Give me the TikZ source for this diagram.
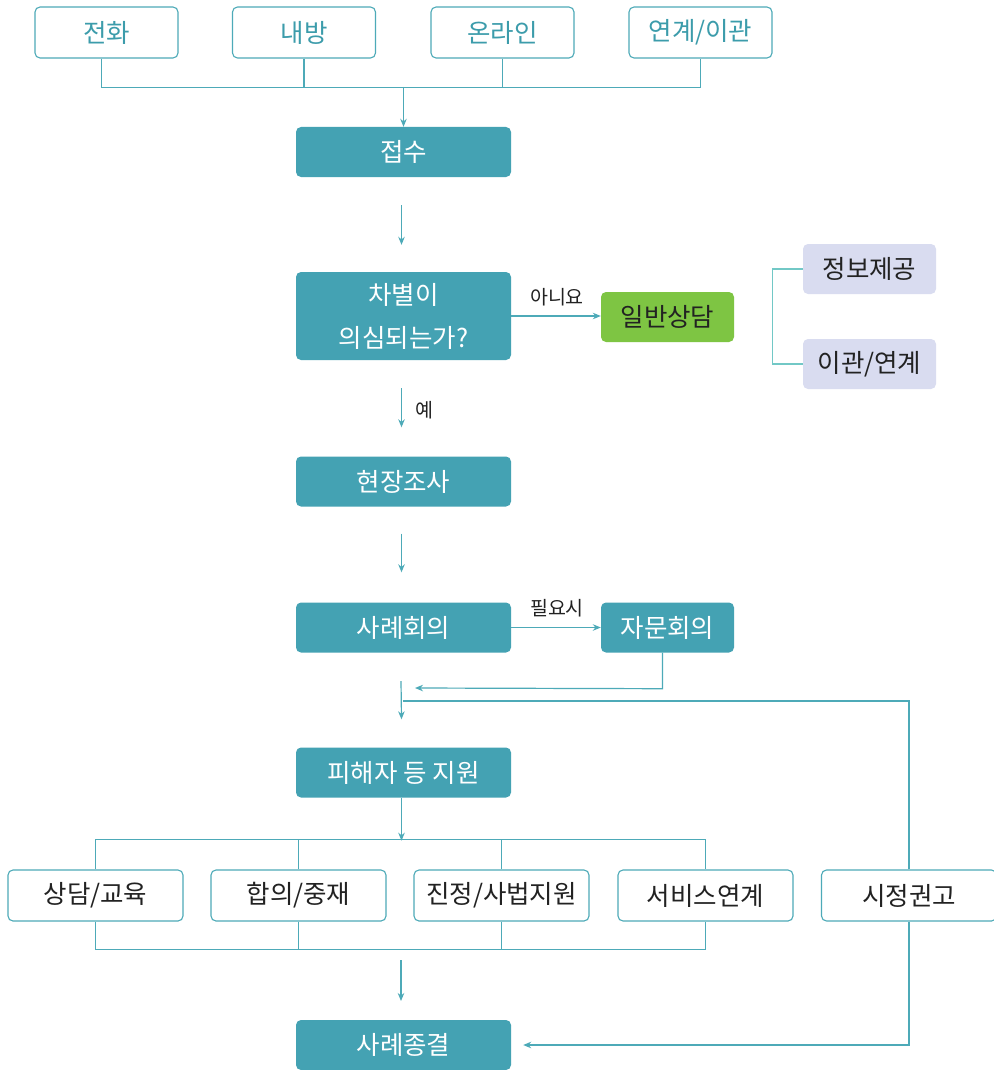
\documentclass[tikz,border=0pt]{standalone}
\usepackage{fontspec}
\setmainfont{Noto Sans CJK KR}
\usetikzlibrary{arrows.meta,calc}
\definecolor{tealf}{HTML}{44A2B3}
\definecolor{tealt}{HTML}{3C9CAB}
\definecolor{linec}{HTML}{4DAAB8}
\definecolor{greenf}{HTML}{7EC543}
\definecolor{lavf}{HTML}{D9DCF0}
\definecolor{bracketc}{HTML}{72C8C6}
\definecolor{txt}{HTML}{222222}
\begin{document}
\begin{tikzpicture}[x=1pt,y=-1pt,
  base/.style={inner sep=0pt, font=\fontsize{25.5}{30}\selectfont, rounded corners=5pt},
  outbox/.style={base, draw=linec, line width=1.1pt, fill=white, minimum width=143pt, minimum height=51pt},
  mainbox/.style={base, fill=tealf, text=white, minimum width=215pt, minimum height=50pt},
  greenbox/.style={base, fill=greenf, text=txt, minimum width=133pt, minimum height=50pt},
  lavbox/.style={base, fill=lavf, text=txt, minimum width=133pt, minimum height=50pt},
  conn/.style={draw=linec, line width=1.2pt},
  arr/.style={conn, -{Stealth[length=8pt,width=6.5pt]}},
  lab/.style={font=\fontsize{19.5}{22}\selectfont, inner sep=1pt, text=txt}]
\useasboundingbox (0,0) rectangle (993,1070);
\fill[white] (0,0) rectangle (993,1070);

% top sources
\node[outbox,text=tealt] (phone) at (106.5,32.5) {전화};
\node[outbox,text=tealt] (visit) at (304,32.5) {내방};
\node[outbox,text=tealt] (online) at (502.5,32.5) {온라인};
\node[outbox,text=tealt] (link) at (700.5,32.5) {연계/이관};

% main column
\node[mainbox] (recv) at (403.5,152) {접수};
\node[mainbox, minimum height=88pt, align=center, font=\fontsize{25.5}{43}\selectfont] (q) at (403.5,316) {차별이\\의심되는가?};
\node[greenbox] (gen) at (667.5,317) {일반상담};
\node[lavbox] (info) at (869.5,269) {정보제공};
\node[lavbox] (trans) at (869.5,364) {이관/연계};
\node[mainbox] (site) at (403.5,481.5) {현장조사};
\node[mainbox] (case) at (403.5,627.5) {사례회의};
\node[mainbox, minimum width=133pt] (adv) at (667.5,627.5) {자문회의};
\node[mainbox] (sup) at (403.5,772.5) {피해자 등 지원};

% bottom row
\node[outbox, text=txt, minimum width=175pt] (b1) at (95.5,895.5) {상담/교육};
\node[outbox, text=txt, minimum width=175pt] (b2) at (298.5,895.5) {합의/중재};
\node[outbox, text=txt, minimum width=175pt] (b3) at (501.5,895.5) {진정/사법지원};
\node[outbox, text=txt, minimum width=175pt] (b4) at (705.5,895.5) {서비스연계};
\node[outbox, text=txt, minimum width=175pt] (b5) at (909,895.5) {시정권고};

\node[mainbox] (end) at (403.5,1045) {사례종결};

% labels
\node[lab] (no) at (557,297) {아니요};
\node[lab] (yes) at (424,410) {예};
\node[lab] (need) at (557,608) {필요시};

% coordinates
\coordinate (top) at (403.5,87);
\coordinate (j1) at (401,681);
\coordinate (j2) at (403,701);
\coordinate (a9s) at (401,960);
\coordinate (a9e) at (401,1001);

% connectors top
\draw[conn] ([xshift=-5pt]phone.south) -- ++(0,29) -| (link.south);
\draw[conn] (visit.south) -- (visit.south |- top);
\draw[conn] (online.south) -- (online.south |- top);
\draw[arr] (top) -- (recv.north);

\draw[arr] ([xshift=-2pt,yshift=-28pt]recv.south) -- ([xshift=-2pt,yshift=27pt]q.north);
\draw[arr] (q.east) -- (q.east -| gen.west);
\draw[conn, draw=bracketc] (info.west) -- ++(-30,0) |- (trans.west);
\draw[arr] ([xshift=-2pt,yshift=-28pt]q.south) -- ([xshift=-2pt,yshift=29pt]site.north);
\draw[arr] ([xshift=-2pt,yshift=-27pt]site.south) -- ([xshift=-2pt,yshift=30pt]case.north);
\draw[arr] (case.east) -- (adv.west);
\draw[arr] ([xshift=-5pt]adv.south) -- ++(0,36) -- ([xshift=14pt]j1 |- 0,688);
\draw[arr] (j1) -- ([xshift=-2pt,yshift=28pt]sup.north);
\draw[conn] (b5.north) |- (j2);

% branch
\draw[arr] ([xshift=-2pt]sup.south) -- ++(0,43);
\draw[conn] (b1.north) -- ++(0,-30) -| (b4.north);
\draw[conn] (b2.north) -- ++(0,-30);
\draw[conn] (b3.north) -- ++(0,-30);
\draw[conn] (b1.south) -- ++(0,28) -| (b4.south);
\draw[conn] (b2.south) -- ++(0,28);
\draw[conn] (b3.south) -- ++(0,28);
\draw[arr] (a9s) -- (a9e);
\draw[arr] (b5.south) |- ([xshift=12pt]end.east);
\end{tikzpicture}
\end{document}
